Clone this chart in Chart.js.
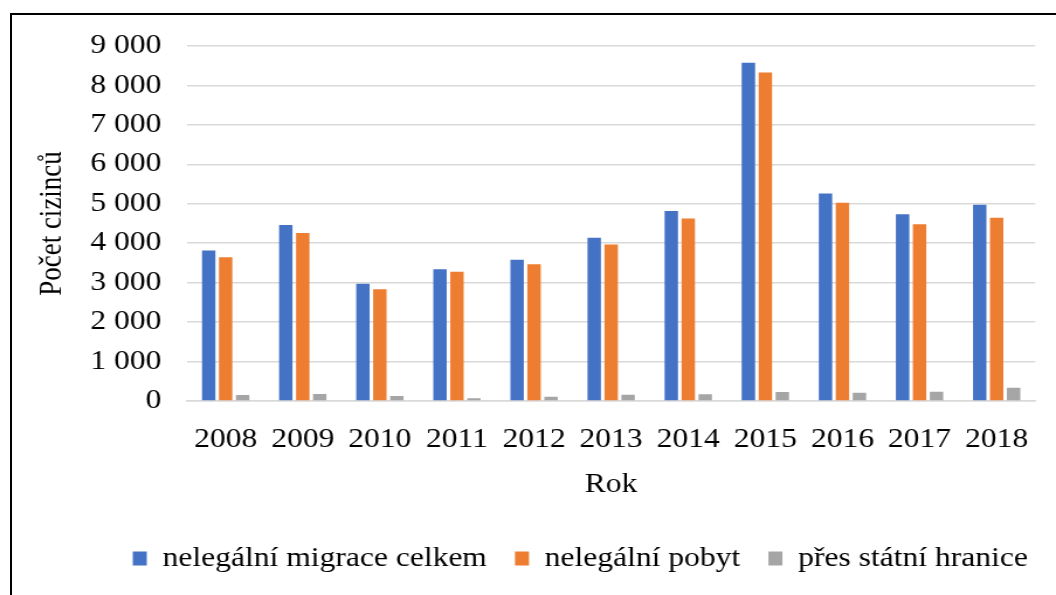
<!DOCTYPE html>
<html>
<head>
<meta charset="utf-8">
<script src="https://cdn.jsdelivr.net/npm/chart.js@4/dist/chart.umd.min.js"></script>
<style>
    html, body { margin: 0; padding: 0; background: #fff; overflow: hidden; }
    #frame {
        position: absolute; left: 10px; top: 13px; width: 1200px; height: 700px;
        border-top: 2px solid #000; border-left: 2px solid #000;
    }
    #wrap {
        position: absolute; left: 0; top: 0; width: 903px; height: 595px;
        transform: scaleX(1.1694); transform-origin: 0 0;
    }
</style>
</head>
<body>
<div id="frame"></div>
<div id="wrap"><canvas id="chart" width="903" height="595"></canvas></div>
<script>
var years = ['2008', '2009', '2010', '2011', '2012', '2013', '2014', '2015', '2016', '2017', '2018'];
var celkem = [3815, 4459, 2970, 3342, 3579, 4137, 4814, 8578, 5258, 4732, 4978];
var pobyt = [3647, 4256, 2835, 3274, 3469, 3967, 4627, 8331, 5029, 4478, 4648];
var hranice = [152, 180, 127, 72, 106, 161, 169, 229, 212, 235, 335];
var seriesNames = ['nelegální migrace celkem', 'nelegální pobyt', 'přes státní hranice'];

Chart.defaults.font.family = "'Liberation Serif', 'Times New Roman', serif";
Chart.defaults.color = '#000';

function fmt(v) {
    return String(v).replace(/\B(?=(\d{3})+(?!\d))/g, ' ');
}

var ctx = document.getElementById('chart').getContext('2d');
var myChart = new Chart(ctx, {
    type: 'bar',
    data: {
        labels: years,
        datasets: [{
            label: seriesNames[0],
            data: celkem,
            backgroundColor: '#4472C4'
        },
        {
            label: seriesNames[1],
            data: pobyt,
            backgroundColor: '#ED7D31'
        },
        {
            label: seriesNames[2],
            data: hranice,
            backgroundColor: '#A5A5A5'
        }]
    },
    options: {
        responsive: false,
        animation: false,
        devicePixelRatio: 1,
        categoryPercentage: 0.66,
        barPercentage: 0.79,
        layout: {
            padding: { left: 22, right: 0, top: 46, bottom: 13 }
        },
        plugins: {
            tooltip: { enabled: false },
            legend: {
                position: 'bottom',
                align: 'end',
                labels: {
                    boxWidth: 12,
                    boxHeight: 14,
                    padding: 24,
                    color: '#000',
                    font: { size: 27 }
                }
            }
        },
        scales: {
            x: {
                afterFit: function (axis) { axis.height = 120; },
                grid: { display: false, drawTicks: false },
                border: { display: true, color: '#D9D9D9', width: 1.5 },
                ticks: { padding: 23, font: { size: 27 }, color: '#000', maxRotation: 0 },
                title: {
                    display: true,
                    text: 'Rok',
                    color: '#000',
                    padding: { top: 19.5, bottom: 19.5 },
                    font: { size: 27 }
                }
            },
            y: {
                min: 0,
                max: 9000,
                afterFit: function (axis) { axis.width = 138; },
                grid: { color: '#D9D9D9', lineWidth: 1.5, drawTicks: false },
                border: { display: false },
                ticks: {
                    stepSize: 1000,
                    padding: 22,
                    color: '#000',
                    font: { size: 27 },
                    callback: function (value) { return fmt(value); }
                },
                title: {
                    display: true,
                    text: 'Počet cizinců',
                    color: '#000',
                    padding: { top: 6.5, bottom: 4 },
                    font: { size: 27 }
                }
            },
            // empty right margin so the legend can run further right than the plot
            spacer: {
                type: 'linear',
                position: 'right',
                afterFit: function (axis) { axis.width = 16; },
                grid: { display: false },
                border: { display: false },
                ticks: { display: false }
            }
        }
    }
});
</script>
</body>
</html>
